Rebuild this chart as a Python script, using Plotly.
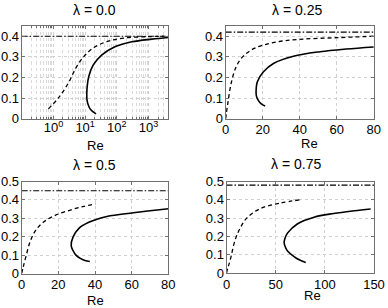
import plotly.graph_objects as go

W, H = 388, 308

titles = ["λ = 0.0", "λ = 0.25", "λ = 0.5", "λ = 0.75"]
asymptote = [0.40, 0.42, 0.45, 0.48]

# Panel 1 (log x)
p1_dash_x = [0.69, 1.43, 2.95, 5.4, 10, 20.6, 54, 183, 1000, 3000]
p1_dash_y = [0.048, 0.101, 0.173, 0.253, 0.309, 0.349, 0.376, 0.392, 0.398, 0.400]
p1_solid_x = [22, 17, 14.3, 12.3, 11.4, 11.6, 13.0, 18.0, 33, 87, 295, 1260, 4200]
p1_solid_y = [0.024, 0.036, 0.048, 0.07, 0.093, 0.157, 0.205, 0.261, 0.309, 0.349, 0.373, 0.386, 0.394]

# Panel 2
p2_dash_x = [0, 0.4, 1.1, 2.9, 5.6, 9.1, 15.4, 26.2, 40, 60, 80]
p2_dash_y = [0.0, 0.03, 0.072, 0.17, 0.251, 0.30, 0.341, 0.370, 0.385, 0.393, 0.400]
p2_solid_x = [21.3, 19.2, 17.7, 16.6, 16.4, 17.1, 20.4, 25.8, 36.6, 51, 65, 80]
p2_solid_y = [0.062, 0.072, 0.088, 0.11, 0.132, 0.18, 0.228, 0.268, 0.303, 0.325, 0.338, 0.348]

# Panel 3
p3_dash_x = [0, 0.8, 2.2, 4.5, 7.6, 12.1, 18.5, 26.6, 34, 40.2]
p3_dash_y = [0.0, 0.035, 0.088, 0.17, 0.235, 0.281, 0.317, 0.345, 0.365, 0.378]
p3_solid_x = [37.2, 34.5, 32, 29.6, 28.0, 27.0, 28.0, 31.1, 36.6, 46.5, 61, 80]
p3_solid_y = [0.065, 0.071, 0.082, 0.10, 0.125, 0.152, 0.198, 0.244, 0.278, 0.31, 0.33, 0.352]

# Panel 4
p4_dash_x = [0, 1.5, 3.6, 8.7, 13.8, 20.6, 34.3, 54.7, 75]
p4_dash_y = [0.0, 0.03, 0.067, 0.179, 0.244, 0.30, 0.352, 0.382, 0.40]
p4_solid_x = [80.6, 74, 68.7, 62.5, 60.3, 58.6, 59.5, 62, 72, 89, 109, 130, 146.6]
p4_solid_y = [0.058, 0.072, 0.09, 0.118, 0.136, 0.165, 0.19, 0.218, 0.268, 0.305, 0.325, 0.34, 0.35]

log_tickvals = [1, 10, 100, 1000]
log_ticktext = ["10<sup>0</sup>", "10<sup>1</sup>", "10<sup>2</sup>", "10<sup>3</sup>"]
p2_xticks = [0, 20, 40, 60, 80]
p3_xticks = [0, 20, 40, 60, 80]
p4_xticks = [0, 50, 100, 150]

fig = go.Figure()
panels = [
    (p1_dash_x, p1_dash_y, p1_solid_x, p1_solid_y),
    (p2_dash_x, p2_dash_y, p2_solid_x, p2_solid_y),
    (p3_dash_x, p3_dash_y, p3_solid_x, p3_solid_y),
    (p4_dash_x, p4_dash_y, p4_solid_x, p4_solid_y),
]
xranges = [[-1, 3.62], [0, 80], [0, 80], [0, 150]]
xlims = [[10 ** -1, 10 ** 3.62], [0, 80], [0, 80], [0, 150]]
yranges = [[0, 0.452], [0, 0.452], [0, 0.5], [0, 0.5]]

# pixel boxes: (left, right, top, bottom)
boxes = [(21.7, 168.3, 25.5, 118.8), (225.7, 373.8, 25.5, 118.8),
         (21.7, 168.3, 181.5, 273.5), (226.5, 374.0, 181.5, 273.0)]

for i, (dx, dy, sx, sy) in enumerate(panels):
    ax = "" if i == 0 else str(i + 1)
    xa, ya = "x" + ax, "y" + ax
    fig.add_trace(go.Scatter(x=xlims[i], y=[asymptote[i]] * 2, mode="lines",
                             line=dict(color="black", width=1.1, dash="6px,2px,1.5px,2px"),
                             xaxis=xa, yaxis=ya, showlegend=False))
    fig.add_trace(go.Scatter(x=dx, y=dy, mode="lines", line_shape="spline",
                             line=dict(color="black", width=1.3, dash="4px,3px"),
                             xaxis=xa, yaxis=ya, showlegend=False))
    fig.add_trace(go.Scatter(x=sx, y=sy, mode="lines", line_shape="spline",
                             line=dict(color="black", width=1.6),
                             xaxis=xa, yaxis=ya, showlegend=False))

font = dict(family="Liberation Sans, Arial, sans-serif", size=13, color="black")
title_font = dict(font, size=14)
axis_common = dict(showline=True, mirror="ticks", linecolor="#707070", linewidth=1,
                   ticks="inside", ticklen=3, tickcolor="#707070",
                   showgrid=True, gridcolor="#d0d0d0", griddash="dot", gridwidth=1,
                   zeroline=False, tickfont=font, automargin=False)

layout = dict(width=W, height=H, margin=dict(l=0, r=0, t=0, b=0, autoexpand=False),
              paper_bgcolor="white", plot_bgcolor="white", font=font,
              showlegend=False)

minor_vals = [m * 10 ** e for e in range(-1, 4) for m in range(2, 10)]

for i in range(4):
    l, r, t, b = boxes[i]
    ax = "" if i == 0 else str(i + 1)
    xd = [l / W, r / W]
    yd = [1 - b / H, 1 - t / H]
    xaxis = dict(axis_common, domain=xd, anchor="y" + ax, range=xranges[i],
                 ticklabelstandoff=-1)
    if i == 0:
        xaxis.update(type="log", tickmode="array", tickvals=log_tickvals,
                     ticktext=log_ticktext, ticklabelstandoff=-3,
                     minor=dict(tickmode="array", tickvals=minor_vals, showgrid=True,
                                gridcolor="#dadada", griddash="dot", gridwidth=1,
                                ticks="inside", ticklen=2, tickcolor="#707070"))
    else:
        xaxis.update(tickmode="array", tickvals=[p2_xticks, p3_xticks, p4_xticks][i - 1])
    yaxis = dict(axis_common, domain=yd, anchor="x" + ax, range=yranges[i],
                 tickmode="linear", tick0=0, dtick=0.1, ticklabelstandoff=-1)
    layout["xaxis" + ax] = xaxis
    layout["yaxis" + ax] = yaxis

fig.update_layout(**layout)

title_pos = [(94, 10), (297, 10), (94, 165), (296, 164)]
re_pos = [(95, 145), (309, 143), (95, 300), (312, 295)]
for i in range(4):
    fig.add_annotation(text=titles[i], x=title_pos[i][0] / W, y=1 - title_pos[i][1] / H,
                       xref="paper", yref="paper", showarrow=False,
                       xanchor="center", yanchor="middle", font=title_font)
    fig.add_annotation(text="Re", x=re_pos[i][0] / W, y=1 - re_pos[i][1] / H,
                       xref="paper", yref="paper", showarrow=False,
                       xanchor="center", yanchor="middle", font=font)

fig.write_html("out.html", config={"displayModeBar": False},
               post_script="document.body.style.margin='0';"
                           "document.documentElement.style.overflow='hidden';")
